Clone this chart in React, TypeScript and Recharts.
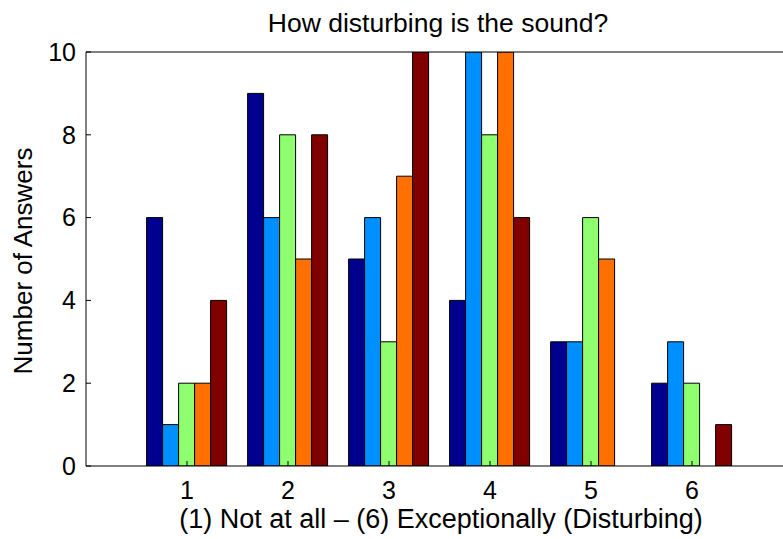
import { BarChart, Bar, XAxis, YAxis } from "recharts";

const categories = ["1", "2", "3", "4", "5", "6"];
const series1 = [6, 9, 5, 4, 3, 2];
const series2 = [1, 6, 6, 10, 3, 3];
const series3 = [2, 8, 3, 8, 6, 2];
const series4 = [2, 5, 7, 10, 5, 0];
const series5 = [4, 8, 10, 6, 0, 1];
const yTicks = [0, 2, 4, 6, 8, 10];

const COLORS = ["#00008F", "#008FFF", "#8FFF70", "#FF7000", "#800000"];
const FONT = "'Liberation Sans', Arial, sans-serif";

const data = categories.map((c, i) => ({
  cat: c,
  s1: series1[i],
  s2: series2[i],
  s3: series3[i],
  s4: series4[i],
  s5: series5[i],
}));

export default function App() {
  const pad = { left: 50.5, right: 50.5 };
  return (
    <div
      style={{
        position: "absolute",
        left: 0,
        top: 0,
        width: 783,
        height: 539,
        overflow: "hidden",
        background: "#fff",
        fontFamily: FONT,
      }}
    >
      <BarChart
        width={800}
        height={539}
        data={data}
        margin={{ top: 51, right: 7, bottom: 0, left: 0 }}
        barCategoryGap="10%"
        barGap={0}
      >
        <XAxis
          dataKey="cat"
          height={73}
          padding={pad}
          interval={0}
          tickSize={-5}
          tickMargin={20}
          axisLine={{ stroke: "#000", strokeWidth: 1 }}
          tickLine={{ stroke: "#000" }}
          tick={{ fill: "#000", fontSize: 25, fontFamily: FONT }}
        />
        <XAxis
          xAxisId="top"
          dataKey="cat"
          orientation="top"
          height={1}
          padding={pad}
          interval={0}
          tickSize={-5}
          tick={false}
          axisLine={{ stroke: "#000", strokeWidth: 1 }}
          tickLine={{ stroke: "#000" }}
        />
        <YAxis
          width={86}
          domain={[0, 10]}
          ticks={yTicks}
          allowDataOverflow
          interval={0}
          tickSize={-5}
          tickMargin={15}
          axisLine={{ stroke: "#000", strokeWidth: 1 }}
          tickLine={{ stroke: "#000" }}
          tick={{ fill: "#000", fontSize: 25, fontFamily: FONT }}
        />
        {(["s1", "s2", "s3", "s4", "s5"] as const).map((k, i) => (
          <Bar
            key={k}
            dataKey={k}
            fill={COLORS[i]}
            stroke="#000"
            strokeWidth={1}
            isAnimationActive={false}
          />
        ))}
        <text x={438} y={32} textAnchor="middle" fontSize={26.5} fontFamily={FONT} fill="#000">
          How disturbing is the sound?
        </text>
        <text x={441} y={528} textAnchor="middle" fontSize={27} fontFamily={FONT} fill="#000">
          (1) Not at all – (6) Exceptionally (Disturbing)
        </text>
        <text
          x={32}
          y={261}
          textAnchor="middle"
          fontSize={26}
          fontFamily={FONT}
          fill="#000"
          transform="rotate(-90 32 261)"
        >
          Number of Answers
        </text>
      </BarChart>
    </div>
  );
}
